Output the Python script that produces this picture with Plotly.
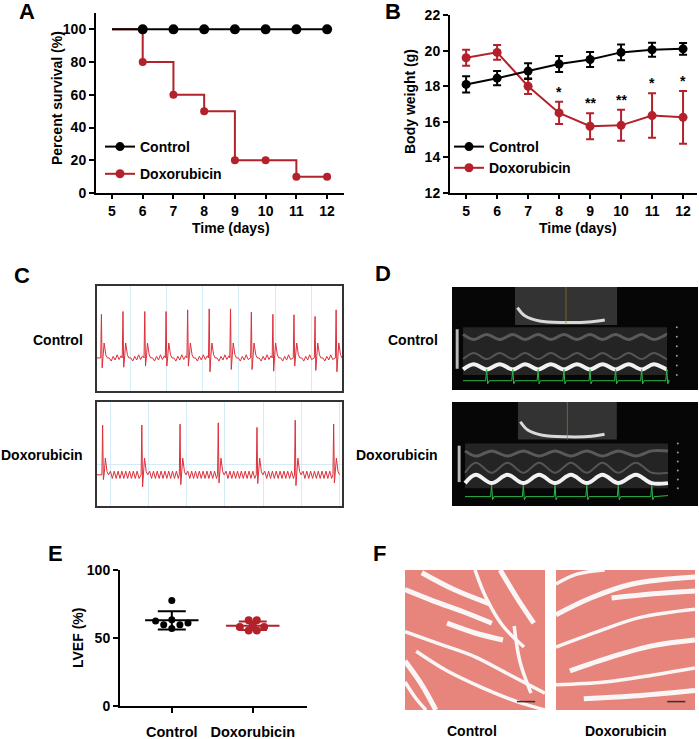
import plotly.graph_objects as go
import numpy as np

W, H = 699, 739
FONT = "Arial, Liberation Sans, sans-serif"
RED = "#b3222b"
BLACK = "#000000"

# ---- A: survival
days = [5, 6, 7, 8, 9, 10, 11, 12]
surv_control = [100, 100, 100, 100, 100, 100, 100, 100]
surv_doxo = [100, 80, 60, 50, 20, 20, 10, 10]

# ---- B: body weight (mean, sem)
bw_control = [18.1, 18.45, 18.85, 19.25, 19.5, 19.9, 20.05, 20.1]
bw_control_err = [0.46, 0.4, 0.44, 0.45, 0.42, 0.44, 0.39, 0.33]
bw_doxo = [19.6, 19.9, 18.0, 16.5, 15.75, 15.8, 16.35, 16.25]
bw_doxo_err = [0.45, 0.42, 0.44, 0.62, 0.73, 0.87, 1.25, 1.48]
bw_sig = ["", "", "", "*", "**", "**", "*", "*"]

# ---- E: LVEF
groups = ["Control", "Doxorubicin"]
lvef_control = [77.5, 62.5, 63.5, 59.8, 59.8, 61, 57]
lvef_control_jit = [0, -0.2, 0, -0.1, 0.1, 0.2, 0]
lvef_doxo = [63, 63, 58, 58, 55.5, 55.5, 59.5]
lvef_doxo_jit = [-0.05, 0.05, -0.16, 0.14, -0.05, 0.05, 0]

# ---- C: ECG traces (beat time, R peak, S dip) in box-normalised units
ecg_ctrl_beats = [0.018, 0.106, 0.195, 0.282, 0.370, 0.458, 0.545, 0.630, 0.718, 0.804, 0.890, 0.976]
ecg_ctrl_tops = [0.73, 0.757, 0.757, 0.757, 0.773, 0.782, 0.782, 0.751, 0.73, 0.726, 0.71, 0.773]
ecg_ctrl_dips = [0.22, 0.227, 0.237, 0.237, 0.237, 0.183, 0.205, 0.205, 0.189, 0.237, 0.196, 0.183]
ecg_ctrl_ripple = [0.0, -0.03, 0.015, -0.02, 0.03, -0.015, 0.02, -0.03]
ecg_doxo_beats = [0.023, 0.183, 0.339, 0.495, 0.653, 0.809, 0.966]
ecg_doxo_tops = [0.778, 0.778, 0.787, 0.8, 0.756, 0.825, 0.787]
ecg_doxo_dips = [0.254, 0.184, 0.206, 0.222, 0.216, 0.197, 0.222]
ecg_doxo_ripple = [0.035, -0.035]

# ---- D: echo beat positions (image-normalised)
echo_ctrl_beats = [0.141, 0.247, 0.35, 0.455, 0.561, 0.665, 0.771, 0.873]
echo_doxo_beats = [0.161, 0.29, 0.419, 0.548, 0.676, 0.812]


def px(x):
    return x / W


def py(y):
    return 1 - y / H


fig = go.Figure()

# ---------------- A
fig.add_trace(go.Scatter(x=days, y=surv_doxo, mode="lines", line=dict(color=RED, width=2, shape="hv"),
                         showlegend=False, xaxis="x", yaxis="y"))
fig.add_trace(go.Scatter(x=days[1:], y=surv_doxo[1:], mode="markers", marker=dict(color=RED, size=8),
                         showlegend=False, xaxis="x", yaxis="y"))
fig.add_trace(go.Scatter(x=days, y=surv_control, mode="lines", line=dict(color=BLACK, width=2),
                         showlegend=False, xaxis="x", yaxis="y"))
fig.add_trace(go.Scatter(x=days[1:], y=surv_control[1:], mode="markers", marker=dict(color=BLACK, size=10),
                         showlegend=False, xaxis="x", yaxis="y"))
for name, col, grp in [("Control", BLACK, "a1"), ("Doxorubicin", RED, "a2")]:
    fig.add_trace(go.Scatter(x=[None], y=[None], mode="lines+markers", name=name, legendgroup=grp,
                             line=dict(color=col, width=2), marker=dict(color=col, size=9),
                             legend="legend", xaxis="x", yaxis="y"))

# ---------------- B
fig.add_trace(go.Scatter(x=days, y=bw_doxo, mode="lines+markers", name="Doxorubicin", legendgroup="b2",
                         line=dict(color=RED, width=2), marker=dict(color=RED, size=9),
                         error_y=dict(type="data", array=bw_doxo_err, color=RED, thickness=2, width=4),
                         legend="legend2", xaxis="x2", yaxis="y2"))
fig.add_trace(go.Scatter(x=days, y=bw_control, mode="lines+markers", name="Control", legendgroup="b1",
                         line=dict(color=BLACK, width=2), marker=dict(color=BLACK, size=9),
                         error_y=dict(type="data", array=bw_control_err, color=BLACK, thickness=2, width=4),
                         legend="legend2", xaxis="x2", yaxis="y2"))

# ---------------- C: ECG


def ecg_line(beats, tops, dips, base, twave, ripple, step):
    xs, ys = [0.0], [base]
    for i, (t, p, q) in enumerate(zip(beats, tops, dips)):
        xs += [t - 0.003, t, t + 0.003, t + 0.007, t + 0.011, t + 0.018, t + 0.024]
        ys += [base, p, q, base + 0.02, twave, base + 0.03, base]
        nxt = beats[i + 1] if i + 1 < len(beats) else 1.0
        x, k = t + 0.024 + step, 0
        while x < nxt - 0.006:
            xs.append(x)
            ys.append(base + ripple[k % len(ripple)])
            x += step
            k += 1
    return xs, ys


cx, cy = ecg_line(ecg_ctrl_beats, ecg_ctrl_tops, ecg_ctrl_dips, 0.315, 0.457, ecg_ctrl_ripple, 0.008)
fig.add_trace(go.Scatter(x=cx, y=cy, mode="lines", line=dict(color="#dd2f3a", width=1),
                         showlegend=False, xaxis="x3", yaxis="y3"))
dx, dy = ecg_line(ecg_doxo_beats, ecg_doxo_tops, ecg_doxo_dips, 0.30, 0.46, ecg_doxo_ripple, 0.0078)
fig.add_trace(go.Scatter(x=dx, y=dy, mode="lines", line=dict(color="#dd2f3a", width=1),
                         showlegend=False, xaxis="x4", yaxis="y4"))

# ---------------- D: echo images
shapes = []


def echo(n, beats, sector, mm, wall_lo, wall_hi):
    xa, ya = "x%d" % n, "y%d" % n
    shapes.append(dict(type="rect", xref=xa, yref=ya, x0=0, x1=1, y0=0, y1=1,
                       fillcolor="#060606", line_width=0, layer="below"))
    sx0, sx1, sy0 = sector
    shapes.append(dict(type="rect", xref=xa, yref=ya, x0=sx0, x1=sx1, y0=sy0, y1=1,
                       fillcolor="#333333", line_width=0, layer="below"))
    mx0, mx1, my0, my1 = mm
    shapes.append(dict(type="rect", xref=xa, yref=ya, x0=mx0, x1=mx1, y0=my0, y1=my1,
                       fillcolor="#242424", line_width=0, layer="below"))
    shapes.append(dict(type="rect", xref=xa, yref=ya, x0=mx0 - 0.03, x1=mx0 - 0.018,
                       y0=my0 + 0.06, y1=my1 - 0.02, fillcolor="#b8b8b8", line_width=0, layer="below"))
    # sector arc and cursor
    ax = [sx0 + 0.01, sx0 + 0.04, sx0 + 0.1, sx0 + 0.2, sx0 + 0.3, sx1 - 0.05]
    ay = [sy0 + 0.17, sy0 + 0.09, sy0 + 0.04, sy0 + 0.025, sy0 + 0.03, sy0 + 0.05]
    fig.add_trace(go.Scatter(x=ax, y=ay, mode="lines", line=dict(color="#d9d9d9", width=3, shape="spline"),
                             showlegend=False, hoverinfo="skip", xaxis=xa, yaxis=ya))
    fig.add_trace(go.Scatter(x=[(sx0 + sx1) / 2] * 2, y=[sy0, 1], mode="lines",
                             line=dict(color="#8c7b2c", width=0.7), showlegend=False, hoverinfo="skip",
                             xaxis=xa, yaxis=ya))
    # walls
    d = beats[1] - beats[0]
    wx, wy, gy, ty = [mx0], [wall_lo], [wall_lo + 0.1], [my1 - 0.07]
    for b in beats:
        for xx, frac in [(b - d * 0.5, 1.0), (b, 0.0)]:
            if mx0 < xx < mx1:
                wx.append(xx)
                wy.append(wall_lo + frac * (wall_hi - wall_lo))
                gy.append(wall_lo + 0.1 + frac * (wall_hi - wall_lo) * 1.2)
                ty.append(my1 - 0.07 - frac * 0.05)
    wx.append(mx1)
    wy.append(wall_lo)
    gy.append(wall_lo + 0.1)
    ty.append(my1 - 0.07)
    fig.add_trace(go.Scatter(x=wx, y=gy, mode="lines", line=dict(color="#555555", width=2, shape="spline"),
                             showlegend=False, hoverinfo="skip", xaxis=xa, yaxis=ya))
    fig.add_trace(go.Scatter(x=wx, y=wy, mode="lines", line=dict(color="#f2f2f2", width=4, shape="spline"),
                             showlegend=False, hoverinfo="skip", xaxis=xa, yaxis=ya))
    fig.add_trace(go.Scatter(x=wx, y=ty, mode="lines", line=dict(color="#5a5a5a", width=3, shape="spline"),
                             showlegend=False, hoverinfo="skip", xaxis=xa, yaxis=ya))
    # green ECG strip
    gx, gyy = [mx0], [0.09]
    for b in beats:
        gx += [b - 0.004, b, b + 0.004, b + 0.01]
        gyy += [0.09, 0.2, 0.06, 0.09]
    gx.append(mx1)
    gyy.append(0.1)
    fig.add_trace(go.Scatter(x=gx, y=gyy, mode="lines", line=dict(color="#2fb84a", width=1),
                             showlegend=False, hoverinfo="skip", xaxis=xa, yaxis=ya))
    fig.add_trace(go.Scatter(x=[mx1 + 0.04] * 6, y=list(np.linspace(my0, my1, 6)), mode="markers",
                             marker=dict(color="#9a9a9a", size=2), showlegend=False, hoverinfo="skip",
                             xaxis=xa, yaxis=ya))


echo(5, echo_ctrl_beats, (0.256, 0.671, 0.63), (0.045, 0.874, 0.146, 0.61), 0.2, 0.25)
echo(6, echo_doxo_beats, (0.268, 0.67, 0.64), (0.053, 0.878, 0.17, 0.6), 0.22, 0.3)

# ---------------- E: LVEF scatter
for vals, jit, pos, col, msize in [(lvef_control, lvef_control_jit, 1, BLACK, 7),
                                   (lvef_doxo, lvef_doxo_jit, 2, RED, 8)]:
    m, sd = float(np.mean(vals)), float(np.std(vals, ddof=1))
    fig.add_trace(go.Scatter(x=[pos + j for j in jit], y=vals, mode="markers",
                             marker=dict(color=col, size=msize), showlegend=False, xaxis="x7", yaxis="y7"))
    fig.add_trace(go.Scatter(x=[pos - 0.33, pos + 0.33], y=[m, m], mode="lines",
                             line=dict(color=col, width=2), showlegend=False, xaxis="x7", yaxis="y7"))
    fig.add_trace(go.Scatter(x=[pos], y=[m], mode="markers", marker=dict(size=0.1, color=col),
                             error_y=dict(type="data", array=[sd], color=col, thickness=2, width=14),
                             showlegend=False, xaxis="x7", yaxis="y7"))

# ---------------- F: histology
stripes_ctrl = [
    ([0.0, 0.2, 0.42, 0.62], [0.86, 0.78, 0.7, 0.62]),
    ([0.0, 0.25, 0.5, 0.75, 1.0], [0.56, 0.47, 0.38, 0.25, 0.12]),
    ([0.0, 0.12, 0.22], [0.35, 0.18, 0.0]),
    ([0.08, 0.3, 0.55, 0.8, 1.0], [0.42, 0.28, 0.16, 0.06, 0.0]),
    ([0.12, 0.35, 0.6], [0.98, 0.86, 0.76]),
    ([0.5, 0.58, 0.7, 0.85], [1.0, 0.8, 0.6, 0.45]),
    ([0.68, 0.8, 0.92], [1.0, 0.8, 0.62]),
    ([0.78, 0.82, 0.9], [0.6, 0.35, 0.12]),
    ([0.3, 0.5, 0.7], [0.62, 0.55, 0.5]),
    ([0.0, 0.08, 0.15], [0.2, 0.08, 0.0]),
]
stripes_doxo = [
    ([0.0, 0.25, 0.55, 1.0], [0.68, 0.8, 0.9, 0.95]),
    ([0.0, 0.3, 0.6, 1.0], [0.45, 0.56, 0.66, 0.72]),
    ([0.1, 0.4, 0.7, 1.0], [0.28, 0.38, 0.46, 0.5]),
    ([0.0, 0.35, 0.7, 1.0], [0.18, 0.2, 0.25, 0.3]),
    ([0.2, 0.55, 1.0], [0.08, 0.1, 0.14]),
    ([0.0, 0.15, 0.35], [0.9, 0.97, 1.0]),
    ([0.4, 0.7, 1.0], [0.8, 0.83, 0.85]),
]
for n, stripes in [(8, stripes_ctrl), (9, stripes_doxo)]:
    xa, ya = "x%d" % n, "y%d" % n
    shapes.append(dict(type="rect", xref=xa, yref=ya, x0=0, x1=1, y0=0, y1=1,
                       fillcolor="#e7857c", line_width=0, layer="below"))
    for i, (sx, sy) in enumerate(stripes):
        fig.add_trace(go.Scatter(x=sx, y=sy, mode="lines",
                                 line=dict(color="#fbf6f6", width=5 if i % 2 == 0 else 3.5, shape="spline"),
                                 showlegend=False, hoverinfo="skip", xaxis=xa, yaxis=ya))
    fig.add_trace(go.Scatter(x=[0.8, 0.93], y=[0.06, 0.06], mode="lines", line=dict(color="#333", width=1.5),
                             showlegend=False, hoverinfo="skip", xaxis=xa, yaxis=ya))

# ---------------- layout
tickfont = dict(family=FONT, size=14, color="black", weight="bold")
base_ax = dict(showline=True, linecolor="black", linewidth=2, ticks="outside", ticklen=5, tickwidth=2,
               tickcolor="black", showgrid=False, zeroline=False, tickfont=tickfont, fixedrange=True,
               automargin=False)
blank = dict(visible=False, range=[0, 1], fixedrange=True, automargin=False)
ecg_ax = dict(range=[0, 1], showline=True, mirror=True, linecolor="#333333", linewidth=1.5,
              showticklabels=False, ticks="", zeroline=False, gridcolor="#d5ebf5", gridwidth=1,
              automargin=False)

layout = dict(
    width=W, height=H, margin=dict(l=0, r=0, t=0, b=0, autoexpand=False),
    paper_bgcolor="white", plot_bgcolor="white", font=dict(family=FONT, color="black"),
    xaxis=dict(base_ax, domain=[px(96), px(344)], range=[4.48, 12.55], tickvals=days, anchor="y", ticklen=4),
    yaxis=dict(base_ax, domain=[py(193), py(13)], range=[0, 110], tickvals=[0, 20, 40, 60, 80, 100],
               anchor="x"),
    xaxis2=dict(base_ax, domain=[px(450), px(697)], range=[4.48, 12.45], tickvals=days, anchor="y2",
                ticklen=4),
    yaxis2=dict(base_ax, domain=[py(193), py(15)], range=[12, 22], tickvals=[12, 14, 16, 18, 20, 22],
                anchor="x2"),
    xaxis3=dict(ecg_ax, domain=[px(97), px(342)], anchor="y3", showgrid=True, tick0=0.1355, dtick=0.148),
    yaxis3=dict(ecg_ax, domain=[py(391), py(286)], anchor="x3", showgrid=False),
    xaxis4=dict(ecg_ax, domain=[px(97), px(342)], anchor="y4", showgrid=True, tick0=0.054, dtick=0.156),
    yaxis4=dict(ecg_ax, domain=[py(506), py(402)], anchor="x4", showgrid=True, tick0=0.397, dtick=1),
    xaxis5=dict(blank, domain=[px(452), px(698)], anchor="y5"),
    yaxis5=dict(blank, domain=[py(390), py(287)], anchor="x5"),
    xaxis6=dict(blank, domain=[px(452), px(698)], anchor="y6"),
    yaxis6=dict(blank, domain=[py(506), py(402)], anchor="x6"),
    xaxis7=dict(base_ax, domain=[px(120), px(307)], range=[0.36, 2.67], tickvals=[1, 2], ticktext=groups,
                anchor="y7", ticklabelstandoff=7, tickfont=dict(tickfont, size=14.5)),
    yaxis7=dict(base_ax, domain=[py(706), py(570)], range=[0, 100], tickvals=[0, 50, 100], anchor="x7"),
    xaxis8=dict(blank, domain=[px(405), px(545)], anchor="y8"),
    yaxis8=dict(blank, domain=[py(710), py(570)], anchor="x8"),
    xaxis9=dict(blank, domain=[px(556), px(695)], anchor="y9"),
    yaxis9=dict(blank, domain=[py(710), py(570)], anchor="x9"),
    legend=dict(x=px(100), y=py(131), xanchor="left", yanchor="top", bgcolor="rgba(0,0,0,0)",
                font=dict(family=FONT, size=14, weight="bold"), tracegroupgap=6, itemwidth=30),
    legend2=dict(x=px(449), y=py(131), xanchor="left", yanchor="top", bgcolor="rgba(0,0,0,0)",
                 font=dict(family=FONT, size=14, weight="bold"), tracegroupgap=6, itemwidth=30,
                 traceorder="reversed"),
    shapes=shapes,
)
fig.update_layout(layout)

ann = []


def label(text, x, y, size=14, angle=0, xanchor="center"):
    ann.append(dict(text=text, x=px(x), y=py(y), xref="paper", yref="paper", showarrow=False,
                    xanchor=xanchor, yanchor="middle", textangle=angle,
                    font=dict(family=FONT, size=size, color="black", weight="bold")))


for letter, x, y in [("A", 27, 12), ("B", 393, 12), ("C", 22, 275), ("D", 383, 273), ("E", 55, 553),
                     ("F", 379, 553)]:
    label(letter, x, y, size=22)
label("Percent survival (%)", 57, 98, angle=-90)
label("Time (days)", 231, 228)
label("Body weight (g)", 410, 102, angle=-90)
label("Time (days)", 578, 228)
label("LVEF (%)", 78, 638, angle=-90)
label("Control", 85, 340, xanchor="right")
label("Doxorubicin", 85, 455, xanchor="right")
label("Control", 440, 340, xanchor="right")
label("Doxorubicin", 440, 455, xanchor="right")
label("Control", 472, 731)
label("Doxorubicin", 626, 731)

# significance marks in B, placed above the Doxorubicin error bars
for d, m, e, s in zip(days, bw_doxo, bw_doxo_err, bw_sig):
    if s:
        ann.append(dict(text=s, x=d, y=m + e, xref="x2", yref="y2", showarrow=False, yanchor="bottom",
                        font=dict(family=FONT, size=14, color="black", weight="bold")))

fig.update_layout(annotations=ann)
pin = ("document.documentElement.style.overflow='hidden';document.body.style.margin='0';"
       "document.body.style.overflow='hidden';var g=document.getElementById('{plot_id}');"
       "g.style.position='fixed';g.style.left='0px';g.style.top='0px';")
fig.write_html("out.html", config={"displayModeBar": False}, post_script=pin)
